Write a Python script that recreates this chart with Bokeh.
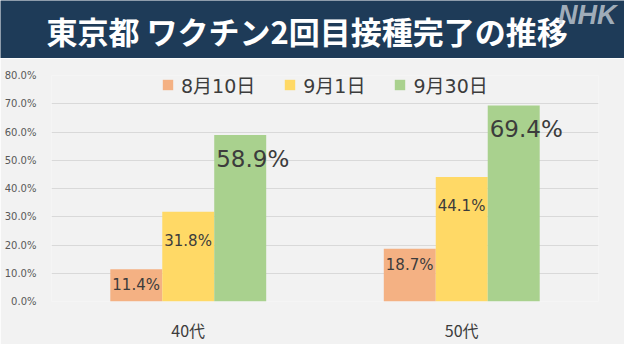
from bokeh.plotting import figure
from bokeh.models import FactorRange, Range1d, ColumnDataSource, Label, PrintfTickFormatter
from bokeh.transform import dodge
from bokeh.layouts import column
from bokeh.embed import file_html
from bokeh.resources import INLINE
from bokeh.core.properties import value

# ---- data ----
ages = ["40代", "50代"]
series_names = ["8月10日", "9月1日", "9月30日"]
aug10 = [11.4, 18.7]
sep01 = [31.8, 44.1]
sep30 = [58.9, 69.4]
y_ticks = [0, 10, 20, 30, 40, 50, 60, 70, 80]
title_text = "東京都 ワクチン2回目接種完了の推移"

# ---- style ----
BG = "#f2f2f2"
NAVY = "#1e3b58"
COLORS = ["#f4b183", "#ffd966", "#a9d18e"]
TXT = "#3c3c3c"
NUM_FONT = "DejaVu Sans"
JP_FONT = "Noto Sans CJK JP"
W = 624
TH = 58
CH = 286
BL, BR = 51, 26

# ---- title band ----
t = figure(width=W, height=TH, x_range=Range1d(0, 1), y_range=Range1d(0, 1),
           x_axis_type=None, y_axis_type=None, output_backend="svg",
           toolbar_location=None, min_border_left=0, min_border_right=0,
           min_border_top=0, min_border_bottom=0)
t.frame_align = False
t.background_fill_color = NAVY
t.border_fill_color = NAVY
t.outline_line_color = None
t.xgrid.visible = False
t.ygrid.visible = False
t.add_layout(Label(x=46, y=TH - 30, x_units="screen", y_units="screen", text=title_text,
                   text_font=JP_FONT, text_font_style="bold", text_font_size="31px",
                   text_color="white", text_baseline="middle", text_align="left"))
t.add_layout(Label(x=616, y=TH - 14, x_units="screen", y_units="screen", text="NHK",
                   text_font="Liberation Sans", text_font_style="bold italic",
                   text_font_size="27px", text_color="#c4ccd5", text_alpha=0.8,
                   text_baseline="middle", text_align="right"))

# ---- chart ----
p = figure(width=W, height=CH, x_range=FactorRange(*ages), y_range=Range1d(0, 80),
           output_backend="svg", toolbar_location=None,
           min_border_left=BL, min_border_right=BR, min_border_top=17, min_border_bottom=43)
p.frame_align = False
p.background_fill_color = BG
p.border_fill_color = BG
p.outline_line_color = None

src = ColumnDataSource(dict(
    age=ages, a=aug10, b=sep01, c=sep30,
    la=[f"{v:.1f}%" for v in aug10],
    lb=[f"{v:.1f}%" for v in sep01],
    lc=[f"{v:.1f}%" for v in sep30],
))

bw = 0.19
offsets = [-bw, 0.0, bw]
cols = ["a", "b", "c"]
lcols = ["la", "lb", "lc"]
lab_sizes = ["15px", "15px", "23px"]
lab_yoff = [16, 29, 24]
for i in range(3):
    p.vbar(x=dodge("age", offsets[i], range=p.x_range), top=cols[i], width=bw,
           source=src, fill_color=COLORS[i], line_color=None, legend_label=series_names[i])
for i in range(3):
    p.text(x=dodge("age", offsets[i] - bw / 2, range=p.x_range), y=cols[i], text=lcols[i],
           source=src, x_offset=2, y_offset=lab_yoff[i], text_align="left",
           text_baseline="middle", text_font=value(NUM_FONT), text_font_size=lab_sizes[i],
           text_color=TXT)

p.yaxis.ticker = y_ticks
p.yaxis.formatter = PrintfTickFormatter(format="%.1f%%")
p.yaxis.major_label_text_font = NUM_FONT
p.yaxis.major_label_text_font_size = "10px"
p.yaxis.major_label_text_color = "#595959"
p.yaxis.major_label_standoff = 9
p.xaxis.major_label_text_font = JP_FONT
p.xaxis.major_label_text_font_size = "16px"
p.xaxis.major_label_text_color = TXT
p.xaxis.major_label_standoff = 10
for ax in (p.xaxis, p.yaxis):
    ax.axis_line_color = None
    ax.major_tick_line_color = None
    ax.minor_tick_line_color = None
p.xgrid.grid_line_color = None
p.ygrid.grid_line_color = "#d9d9d9"

lg = p.legend[0]
lg.orientation = "horizontal"
lg.location = (110, 203)
lg.background_fill_alpha = 0
lg.border_line_alpha = 0
lg.glyph_width = 13
lg.glyph_height = 13
lg.label_height = 17
lg.label_text_font = "DejaVu Sans, Noto Sans CJK JP"
lg.label_text_font_size = "19px"
lg.label_text_color = TXT
lg.label_standoff = 7
lg.spacing = 28
lg.padding = 0
lg.margin = 0

layout = column(t, p, spacing=0)
open("out.html", "w").write(file_html(layout, INLINE))
